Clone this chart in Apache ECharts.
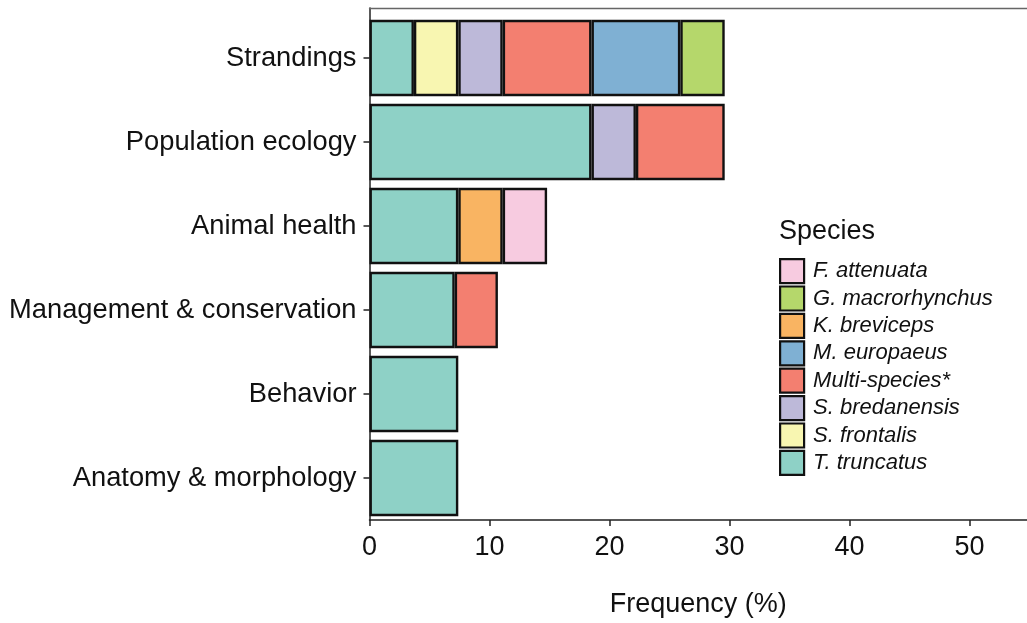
<!DOCTYPE html>
<html>
<head>
<meta charset="utf-8">
<script src="https://cdn.jsdelivr.net/npm/echarts@6/dist/echarts.min.js"></script>
<style>
  html, body { margin: 0; padding: 0; background: #fff; }
  #chart { width: 1027px; height: 623px; }
</style>
</head>
<body>
<div id="chart"></div>
<script>
// Research topics (top to bottom)
const categories = ['Strandings', 'Population ecology', 'Animal health',
  'Management & conservation', 'Behavior', 'Anatomy & morphology'];

// Frequency (%) per species for each topic; null = no studies
const tTruncatus     = [3.7, 18.5, 7.4, 7.1, 7.4, 7.4];
const sFrontalis     = [3.7, null, null, null, null, null];
const sBredanensis   = [3.7, 3.7, null, null, null, null];
const multiSpecies   = [7.4, 7.4, null, 3.6, null, null];
const mEuropaeus     = [7.4, null, null, null, null, null];
const kBreviceps     = [null, null, 3.7, null, null, null];
const gMacrorhynchus = [3.7, null, null, null, null, null];
const fAttenuata     = [null, null, 3.7, null, null, null];

const xTicks = [0, 10, 20, 30, 40, 50];

// Stacking order, left to right
const stackOrder = [
  { name: 'T. truncatus',     data: tTruncatus,     color: '#8ED1C6' },
  { name: 'S. frontalis',     data: sFrontalis,     color: '#F8F6B1' },
  { name: 'S. bredanensis',   data: sBredanensis,   color: '#BDB9D9' },
  { name: 'Multi-species*',   data: multiSpecies,   color: '#F37F70' },
  { name: 'M. europaeus',     data: mEuropaeus,     color: '#7FB0D3' },
  { name: 'K. breviceps',     data: kBreviceps,     color: '#F9B462' },
  { name: 'G. macrorhynchus', data: gMacrorhynchus, color: '#B5D76B' },
  { name: 'F. attenuata',     data: fAttenuata,     color: '#F7CBE0' }
];
// Legend order, top to bottom
const legendOrder = ['F. attenuata', 'G. macrorhynchus', 'K. breviceps', 'M. europaeus',
  'Multi-species*', 'S. bredanensis', 'S. frontalis', 'T. truncatus'];

const FONT = '"Liberation Sans", Arial, sans-serif';
// Panel runs past the right edge of the page; the scale is 12 px per percent
const PLOT_LEFT = 369.5, PLOT_WIDTH = 657.5;
const X_MIN = 0, X_MAX = PLOT_WIDTH / 12;

const chart = echarts.init(document.getElementById('chart'), null, { renderer: 'canvas' });

chart.setOption({
  backgroundColor: '#fff',
  animation: false,
  textStyle: { fontFamily: FONT, color: '#111' },
  title: {
    text: 'Species',
    left: 774, top: 213,
    textStyle: { fontFamily: FONT, fontSize: 27, fontWeight: 'normal', color: '#111' }
  },
  legend: {
    data: legendOrder,
    orient: 'vertical',
    left: 774, top: 253,
    itemWidth: 24, itemHeight: 24,
    itemGap: 1.2,
    icon: 'rect',
    itemStyle: { borderColor: '#111', borderWidth: 2.2 },
    textStyle: { fontFamily: FONT, fontSize: 22, fontStyle: 'italic', color: '#111',
      lineHeight: 24, padding: [0, 0, 0, 4] },
    selectedMode: false
  },
  grid: [
    // panel frame and x axis
    { left: PLOT_LEFT, top: 8, width: PLOT_WIDTH, height: 517, containLabel: false },
    // bars and topic axis
    { left: PLOT_LEFT, top: 16, width: PLOT_WIDTH, height: 504, containLabel: false }
  ],
  xAxis: [
    { type: 'value', gridIndex: 0, min: X_MIN, max: X_MAX, interval: 10,
      splitLine: { show: false },
      axisLine: { show: true, lineStyle: { color: '#222', width: 1.5 } },
      axisTick: { show: true, length: 6, lineStyle: { color: '#222', width: 1.5 } },
      axisLabel: { fontFamily: FONT, fontSize: 27, color: '#111', margin: 14,
        showMaxLabel: false,
        formatter: v => xTicks.includes(v) ? String(v) : '' },
      name: 'Frequency (%)', nameLocation: 'middle', nameGap: 71,
      nameTextStyle: { fontFamily: FONT, fontSize: 27, color: '#111' } },
    { type: 'value', gridIndex: 1, min: X_MIN, max: X_MAX, show: false },
    // top edge of the panel
    { type: 'value', gridIndex: 0, position: 'top', min: X_MIN, max: X_MAX,
      splitLine: { show: false }, axisTick: { show: false }, axisLabel: { show: false },
      axisLine: { show: true, lineStyle: { color: '#666', width: 1.3 } } }
  ],
  yAxis: [
    { type: 'value', gridIndex: 0, min: 0, max: 1,
      splitLine: { show: false },
      axisLine: { show: true, lineStyle: { color: '#222', width: 1.5 } },
      axisTick: { show: false }, axisLabel: { show: false } },
    { type: 'category', gridIndex: 1, data: categories, inverse: true,
      axisLine: { show: false },
      axisTick: { show: true, alignWithLabel: true, length: 6, lineStyle: { color: '#222', width: 1.5 } },
      axisLabel: { fontFamily: FONT, fontSize: 27.3, color: '#111', margin: 13 } }
  ],
  series: stackOrder.map(s => ({
    name: s.name,
    type: 'bar',
    stack: 'total',
    xAxisIndex: 1, yAxisIndex: 1,
    barCategoryGap: '9%',
    data: s.data,
    itemStyle: { color: s.color, borderColor: '#111', borderWidth: 2.4 }
  }))
});
</script>
</body>
</html>
